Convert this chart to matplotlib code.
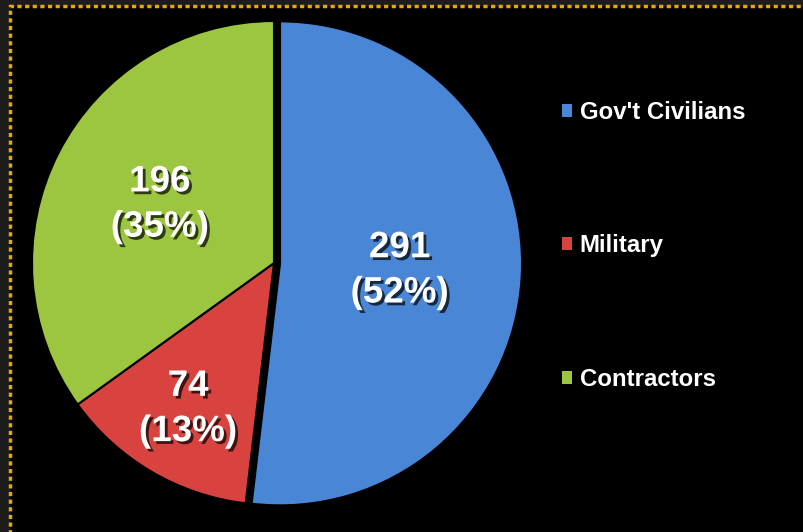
import matplotlib.pyplot as plt
import matplotlib.patheffects as pe
from matplotlib.patches import Rectangle
import numpy as np

labels = ["Gov't Civilians", "Military", "Contractors"]
counts = [291, 74, 196]
pcts = [52, 13, 35]
colors = ['#4a86d6', '#d8433f', '#9cc63f']

plt.rcParams['font.family'] = ['Liberation Sans', 'DejaVu Sans']

fig = plt.figure(figsize=(8.04, 5.32), dpi=100, facecolor='black')

# dark margin and dotted gold frame
fig.patches.append(Rectangle((0, 0), 1, 1, transform=fig.transFigure,
                             facecolor='#1c1c1c', edgecolor='none', zorder=-3))
fig.patches.append(Rectangle((10/804, -0.1), 1.2, 1 - 6/532 + 0.1, transform=fig.transFigure,
                             facecolor='black', edgecolor='#e8a800', linewidth=2.5,
                             linestyle=(0, (1.2, 1.0)), zorder=-2))

cx, cy, r = 274, 263, 242
ax = fig.add_axes([(cx - r) / 804, (532 - cy - r) / 532, 2 * r / 804, 2 * r / 532])
ax.set_facecolor('none')

wedges, _ = ax.pie(counts, colors=colors, startangle=90, counterclock=False,
                   explode=[0.025, 0, 0], radius=1,
                   wedgeprops=dict(edgecolor='black', linewidth=1.5))
ax.set_xlim(-1, 1)
ax.set_ylim(-1, 1)
ax.set_aspect('equal')

dist = [0.52, 0.70, 0.53]
for w, n, p, d in zip(wedges, counts, pcts, dist):
    ang = np.deg2rad((w.theta1 + w.theta2) / 2)
    ax.text(d * np.cos(ang), d * np.sin(ang), f"{n}\n({p}%)", ha='center', va='center',
            color='white', fontsize=26.5, fontweight='bold', linespacing=1.38,
            path_effects=[pe.withSimplePatchShadow(offset=(2, -2), shadow_rgbFace='black', alpha=0.7)])

leg = fig.legend(wedges, labels, loc='upper left', bbox_to_anchor=(540/804, 1 - 79/532),
                 frameon=False, handlelength=0.45, handleheight=0.45, handletextpad=0.3,
                 labelspacing=4.6, prop=dict(weight='bold', size=17.3))
for t in leg.get_texts():
    t.set_color('white')
for h in leg.legend_handles:
    h.set_edgecolor('none')

fig.savefig('out.png', dpi=100, facecolor=fig.get_facecolor())
